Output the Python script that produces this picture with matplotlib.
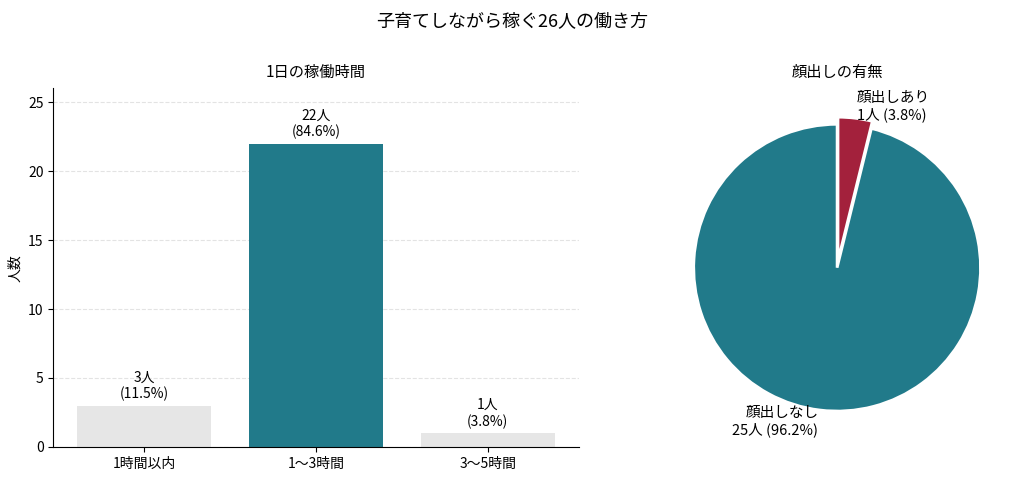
import matplotlib
matplotlib.use("Agg")
import matplotlib.pyplot as plt

plt.rcParams['font.family'] = ['Noto Sans CJK JP', 'DejaVu Sans']

categories = ["1時間以内", "1〜3時間", "3〜5時間"]
counts = [3, 22, 1]
pcts = [11.5, 84.6, 3.8]
bar_colors = ["#e6e6e6", "#217a8a", "#e6e6e6"]

pie_labels = ["顔出しあり", "顔出しなし"]
pie_counts = [1, 25]
pie_pcts = [3.8, 96.2]
pie_colors = ["#a3213c", "#217a8a"]

fig = plt.figure(figsize=(10.24, 4.78), dpi=100)
fig.suptitle("子育てしながら稼ぐ26人の働き方", fontsize=13, y=0.975)

ax = fig.add_axes([0.052, 0.065, 0.513, 0.75])
x = range(len(categories))
ax.bar(x, counts, color=bar_colors, width=0.78)
for i, (c, p) in enumerate(zip(counts, pcts)):
    ax.text(i, c + 0.3, f"{c}人\n({p}%)", ha="center", va="bottom", fontsize=10)
ax.set_xticks(list(x))
ax.set_xticklabels(categories, fontsize=9)
ax.set_ylim(0, 26)
ax.set_yticks([0, 5, 10, 15, 20, 25])
ax.tick_params(labelsize=10)
ax.set_ylabel("人数", fontsize=10)
ax.set_title("1日の稼働時間", fontsize=11, pad=8)
ax.yaxis.grid(True, linestyle="--", color="#dddddd", alpha=0.8)
ax.set_axisbelow(True)
for s in ["top", "right"]:
    ax.spines[s].set_visible(False)

ax2 = fig.add_axes([0.64, 0.065, 0.355, 0.75])
labels = [f"{l}\n{c}人 ({p}%)" for l, c, p in zip(pie_labels, pie_counts, pie_pcts)]
ax2.pie(pie_counts, labels=labels, colors=pie_colors, startangle=90, counterclock=False,
        explode=[0.05, 0], wedgeprops=dict(edgecolor="white", linewidth=2),
        textprops=dict(fontsize=10.5), labeldistance=1.08)
ax2.set_title("顔出しの有無", fontsize=11, pad=8)
ax2.set_aspect("equal")

fig.savefig("out.png", dpi=100)
